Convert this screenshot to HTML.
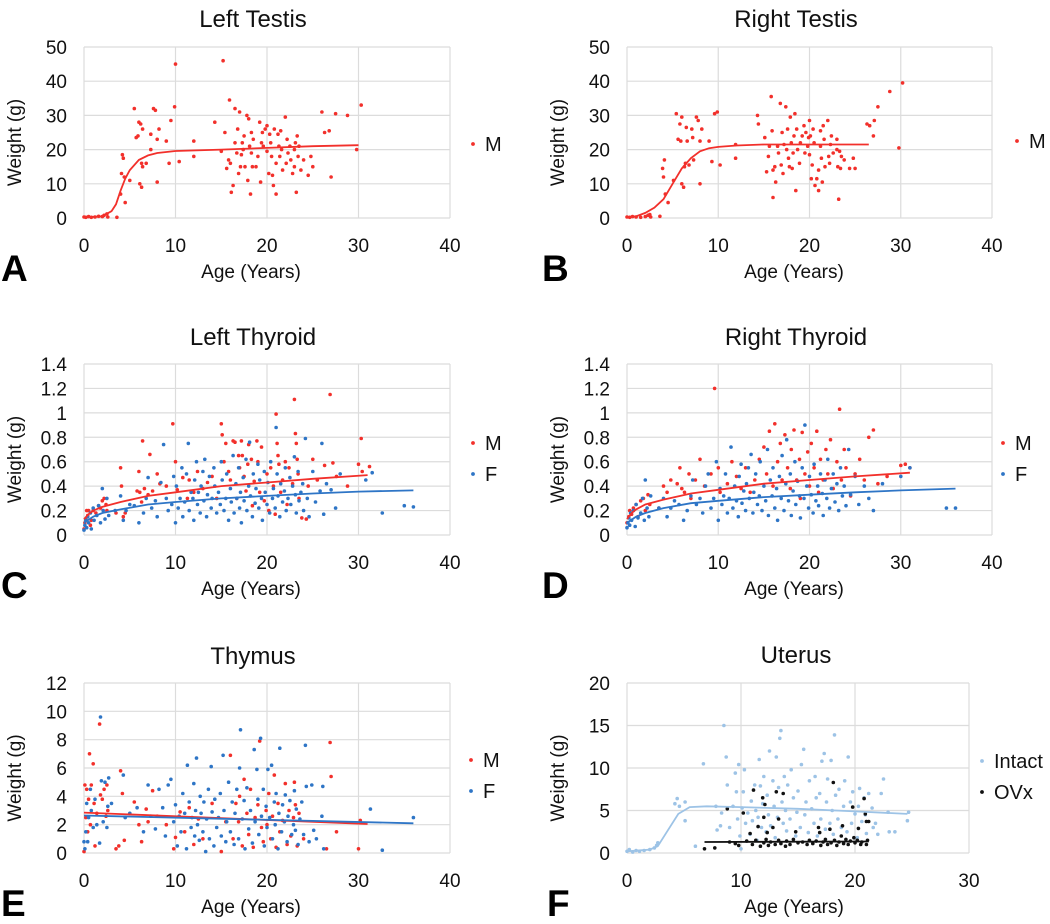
<!DOCTYPE html>
<html><head><meta charset="utf-8">
<style>
html,body{margin:0;padding:0;background:#fff;}
svg{display:block;font-family:"Liberation Sans",sans-serif;}
</style></head>
<body>
<svg id="fig" width="1050" height="924" viewBox="0 0 1050 924"></svg>
<script>
// ---- data (age, weight) ----
const aM = "0,.3 .2,.2 .5,.4 .8,.2 1.2,.3 1.6,.5 2,.4 2.2,.8 2.5,1.2 2.6,.3 3.6,.2 4,7 4.1,13 4.2,18.5 4.3,17.5 4.4,12 4.5,4.5 5,11 5.5,32 5.7,23.5 5.9,24 6,28 6.1,10 6.3,9 6.2,27.5 6.4,26 6.3,16 6.4,15 6.8,16 7.3,20 7.3,24.5 7.6,32 7.8,31.5 8,23 8.2,26 8,10.5 9,22.5 9.3,16 9.5,28.5 9.9,32.5 10,45 10.4,16.5 12,22.5 12,18 14.3,28 15,19.5 15.2,46 15.4,25 15.6,14.5 15.8,17 15.9,34.5 16,16 16.1,7.5 16.3,9.5 16.5,32 16.5,22 16.7,19 16.8,26 16.9,13 17,31 17.1,15 17.2,18.5 17.3,22 17.4,20 17.5,24 17.6,15 17.8,30 17.9,11 18,29 18.1,21 18.2,7 18.3,25 18.3,19 18.4,15 18.5,23 18.8,15 19,18 19.2,28 19.3,10.5 19.4,22 19.5,25 19.6,21 19.8,26 20,27 20,19.5 20.2,13 20.3,24.5 20.4,22 20.5,18 20.6,12.5 20.7,9.5 20.8,26 21,7 21,16 21.2,24.5 21.3,21 21.4,18 21.5,25.5 21.6,20 21.7,14 22,29.5 22.1,16 22.2,23 22.3,19 22.5,21 22.6,17 22.8,13 23,20 23,15 23.1,22 23.2,7.5 23.3,24 23.4,18 23.5,21 23.7,14 24,17 24.5,12.5 24.8,18 25,15 26,31 26.3,25 26.8,25.5 27,12 27.5,30.5 28.8,30 29.8,20 30.3,33";
const aFit = "0,.2 2,.5 3,2 3.5,4 4,8 4.5,11.5 5,14 6,17 7,18.3 8,19 10,19.6 15,20 20,20.5 25,21 30,21.3";
const bM = "0,.3 .3,.2 .6,.4 1,.3 1.5,.2 2,.4 2.3,.8 2.5,1 2.6,.3 3.6,.5 3.9,14.5 4,12 4.1,17 4.2,7 4.5,4.5 5.1,11 5.4,30.5 5.6,23 5.8,27.5 5.9,22.5 6,29.5 6,10 6.2,9 6.3,15 6.4,16 6.5,26.5 6.6,22.5 6.8,15.5 7.1,26 7.2,23.5 7.3,17 7.6,29.5 7.8,28.5 8,22.5 8,10 8.2,26 9,22.5 9.3,16.5 9.6,30.5 9.9,31 10.2,15.5 11.9,21.5 11.9,17.5 14.3,30 14.4,27.5 15.1,23.5 15.3,13.5 15.5,18 15.6,21 15.8,35.5 15.9,25.5 16,14 16,6 16.2,15 16.3,10.5 16.5,21 16.6,19 16.8,33.5 16.9,15.5 17,25 17.1,13 17.2,21.5 17.4,32.5 17.5,20 17.6,26 17.7,17.5 17.8,15 17.9,29.5 18,22 18.1,14.5 18.2,19 18.3,24 18.4,30.5 18.5,8 18.6,26 18.7,20 18.9,16 19,22 19.2,24 19.4,27 19.5,19 19.6,25 19.8,21 19.9,23.5 20,28.5 20,18.5 20.1,24 20.2,11.5 20.3,15.5 20.4,26 20.5,22 20.6,9.5 20.8,11.5 21,14 21,8 21.2,25.5 21.2,21 21.3,17.5 21.4,10.5 21.5,27 21.6,23 21.7,15 22,28.5 22.1,18 22.2,16 22.3,21.5 22.4,24 22.6,19 23,20 23,23 23.1,15 23.2,5.5 23.3,19.5 23.4,14.5 23.5,18 23.8,17 24.4,14.5 24.8,17.5 25,14.5 26.3,27.5 26.6,27 27,24 27.1,28.5 27.5,32.5 28.8,37 29.8,20.5 30.2,39.5";
const bFit = "0,.3 1,.5 2,1.5 3,3 4,5.5 5,10 6,14.5 7,17.5 8,19.5 9,20.4 10,20.8 12,21.2 15,21.5 20,21.5 26.5,21.5";
const cM = "0,.05 .1,.1 .2,.13 .3,.2 .4,.16 .5,.2 .7,.08 .8,.12 1,.2 1.3,.18 1.6,.24 1.8,.22 2,.28 2.2,.3 2.4,.25 2.5,.2 3.5,.18 4,.55 4.1,.4 4.3,.15 4.5,.18 5.8,.36 6,.52 6.1,.35 6.3,.27 6.4,.77 6.6,.38 7,.33 7.2,.66 7.5,.36 8,.5 8.3,.42 9,.4 9.7,.91 10,.6 10.2,.37 10.8,.47 11.3,.3 11.5,.45 12,.35 12.4,.52 13,.38 13.5,.43 14,.48 14.5,.3 15,.91 15.1,.82 15.3,.6 15.5,.75 15.8,.52 16,.45 16.3,.77 16.5,.76 16.7,.3 16.9,.65 17,.55 17.2,.77 17.3,.65 17.5,.48 17.7,.36 17.9,.58 18,.74 18.3,.62 18.4,.24 18.6,.44 18.9,.77 19,.6 19.2,.35 19.4,.72 19.7,.28 20,.5 20.2,.2 20.4,.55 20.7,.4 20.9,.17 21,.99 21.1,.75 21.2,.65 21.3,.58 21.5,.35 21.7,.45 22,.6 22.2,.25 22.4,.55 22.8,.42 23,1.11 23.1,.83 23.2,.75 23.3,.62 23.4,.5 23.5,.3 23.8,.14 24.3,.13 24.5,.4 25,.62 25.5,.45 26.3,.57 26.9,1.15 27.2,.59 27.6,.48 28.8,.4 30,.58 30.3,.79 30.4,.52 31.2,.56";
const cF = "0,.04 .1,.08 .2,.12 .3,.06 .4,.15 .5,.1 .7,.18 .8,.05 1,.22 1.1,.12 1.4,.16 1.6,.24 1.8,.1 2,.38 2.1,.2 2.3,.13 2.5,.3 2.7,.16 3.4,.2 4,.32 4.3,.12 4.6,.2 5,.25 5.5,.24 6,.1 6.5,.18 6.8,.3 7,.47 7.4,.22 7.8,.28 8,.15 8.4,.43 8.7,.74 9,.3 9.2,.2 9.6,.25 9.8,.48 10,.1 10.1,.4 10.3,.22 10.5,.3 10.7,.55 10.8,.15 11,.27 11.2,.5 11.4,.75 11.5,.2 11.7,.35 11.9,.3 12,.12 12.1,.45 12.3,.6 12.4,.25 12.5,.35 12.7,.18 12.8,.4 13,.52 13.1,.28 13.2,.62 13.4,.15 13.5,.33 13.7,.48 13.9,.22 14,.3 14.2,.55 14.3,.4 14.5,.18 14.7,.35 14.9,.25 15,.6 15.1,.45 15.3,.2 15.5,.3 15.6,.5 15.8,.12 16,.38 16.1,.27 16.3,.65 16.4,.18 16.6,.42 16.7,.3 16.9,.55 17,.22 17.1,.35 17.2,.1 17.4,.47 17.5,.28 17.7,.62 17.8,.2 18,.4 18.1,.76 18.2,.32 18.4,.15 18.5,.5 18.7,.26 18.8,.38 19,.58 19.1,.22 19.2,.45 19.4,.3 19.5,.12 19.7,.52 19.8,.35 20,.25 20.1,.43 20.3,.18 20.4,.6 20.6,.3 20.7,.38 20.9,.22 21,.88 21.1,.5 21.2,.32 21.4,.15 21.5,.42 21.7,.27 21.9,.36 22,.55 22.1,.2 22.3,.3 22.5,.47 22.6,.25 22.8,.4 23,.64 23.1,.33 23.2,.18 23.4,.52 23.5,.28 23.7,.35 23.9,.42 24,.2 24.2,.79 24.4,.3 24.6,.15 25,.52 25.3,.27 25.8,.36 26,.75 26.2,.17 26.5,.42 27,.37 27.5,.22 28,.5 30.8,.45 31.5,.51 32.6,.18 35,.24 36,.23";
const cMFit = "0,.13 .5,.17 1,.2 2,.23 4,.27 7,.32 10,.35 15,.4 20,.43 25,.46 31,.49";
const cFFit = "0,.1 1,.15 2,.18 4,.21 7,.25 10,.27 15,.3 20,.32 25,.34 30,.355 36,.365";
const dM = "0,.1 .2,.15 .3,.2 .5,.17 .7,.22 1,.25 1.2,.15 1.5,.28 1.8,.3 2,.2 2.3,.33 2.5,.25 3.5,.22 4,.4 4.4,.35 4.8,.45 5.5,.42 5.8,.55 6,.38 6.3,.35 6.8,.5 7,.3 7.5,.45 8,.62 8.5,.4 9.2,.5 9.6,1.2 10,.55 10.2,.35 11,.42 11.5,.6 12,.48 12.5,.38 13,.55 13.5,.35 14,.45 14.5,.62 15,.72 15.3,.5 15.6,.85 16,.4 16.2,.91 16.5,.6 16.8,.75 17,.45 17.3,.82 17.6,.55 17.9,.38 18,.7 18.3,.86 18.6,.45 18.9,.62 19,.3 19.2,.84 19.5,.5 19.8,.68 20,.4 20.2,.75 20.5,.55 20.8,.85 21,.35 21.2,.62 21.5,.45 21.8,.7 22,.5 22.3,.78 22.6,.38 23,.6 23.3,1.03 23.5,.45 23.8,.7 24,.55 24.5,.32 25,.5 25.5,.62 26,.45 26.5,.8 27,.86 27.5,.42 28.5,.48 30,.57 30.5,.58 31,.55";
const dF = "0,.06 .1,.1 .2,.14 .3,.08 .4,.18 .5,.12 .7,.2 .9,.07 1,.25 1.2,.14 1.5,.18 1.7,.3 1.9,.12 2,.45 2.2,.22 2.4,.15 2.6,.32 3.5,.22 4,.3 4.4,.15 4.8,.22 5.2,.28 5.7,.25 6.2,.12 6.6,.2 7,.32 7.2,.45 7.6,.25 8,.3 8.3,.18 8.6,.4 8.9,.5 9.2,.22 9.5,.3 9.8,.6 10,.12 10.2,.38 10.4,.25 10.6,.32 10.8,.5 11,.18 11.2,.3 11.4,.72 11.6,.22 11.8,.4 12,.28 12.2,.15 12.3,.48 12.5,.58 12.6,.26 12.8,.36 13,.2 13.1,.42 13.3,.55 13.4,.3 13.6,.66 13.8,.18 13.9,.35 14.1,.5 14.3,.25 14.5,.32 14.6,.6 14.8,.2 15,.4 15.2,.28 15.4,.7 15.5,.16 15.7,.45 15.9,.32 16,.55 16.2,.22 16.4,.38 16.5,.12 16.7,.48 16.9,.3 17,.65 17.2,.2 17.4,.42 17.5,.78 17.7,.28 17.9,.5 18,.16 18.2,.36 18.4,.6 18.5,.25 18.7,.44 18.9,.32 19,.14 19.2,.55 19.4,.3 19.5,.9 19.7,.4 19.9,.22 20,.48 20.2,.33 20.4,.18 20.5,.58 20.7,.28 20.9,.4 21,.24 21.2,.5 21.4,.34 21.5,.16 21.7,.45 21.9,.3 22,.62 22.2,.22 22.4,.38 22.6,.5 22.8,.27 23,.42 23.2,.2 23.4,.55 23.6,.32 23.8,.4 24,.24 24.3,.7 24.5,.33 25,.48 25.4,.25 26,.4 26.5,.3 27,.2 28,.42 30,.48 31,.55 35,.22 36,.22";
const dMFit = "0,.13 .5,.18 1,.21 2,.25 4,.29 7,.34 10,.37 15,.42 20,.45 25,.48 31,.51";
const dFFit = "0,.1 1,.15 2,.18 4,.22 7,.26 10,.28 15,.31 20,.33 25,.35 30,.365 36,.38";
const eM = "0,.1 .1,4.8 .2,2.5 .3,4.5 .4,1.5 .5,3.8 .6,7 .7,2 .8,4.8 1,6.3 1.1,3.5 1.2,.5 1.4,2.8 1.7,9.1 1.8,4.1 2,3.8 2.2,4.5 2.4,2.6 2.5,4.8 2.6,3 3.5,.3 3.8,.5 4,5.8 4.2,4.2 4.4,.9 5.5,3.6 6,2 6.3,.8 6.8,3.1 7,2.2 7.5,4.4 8,2.6 9,2 9.8,.3 10,1.1 10.5,2.9 11,1.5 11.5,3.2 12,.6 12.5,2.4 13,1 14,3.5 15,.1 15.5,2.2 16,6.9 16.3,1 16.6,3.5 16.9,2.2 17,4 17.3,.5 17.5,5.2 17.8,2.8 18,1.3 18.2,4.5 18.5,.4 18.7,2.5 19,3.4 19.2,7.9 19.4,1.8 19.6,.8 19.9,3 20,2 20.2,4.2 20.4,1 20.6,2.6 20.8,5.5 21,.4 21.2,3.5 21.4,1.5 21.7,2.3 22,4.9 22.2,.6 22.4,3 22.6,1.2 22.9,2.5 23,5 23.1,3.4 23.3,.5 23.5,2.8 24,1 26.5,.3 26.9,7.8 27,5.4 27.6,1.5 30,.3 30.2,2.3";
const eF = "0,.8 .1,.3 .2,1.5 .3,3.5 .4,.8 .5,2.5 .7,4.5 .8,3 1,1.8 1.2,3.8 1.4,2 1.7,.7 1.8,9.6 1.9,5.1 2.1,2.2 2.3,5 2.5,1.8 2.6,3.3 2.7,5.3 3,3.5 4.3,5.5 4.5,2.5 5,2.8 5.8,3.2 6.5,1.5 7,4.8 7.3,2.6 7.8,1.7 8.2,4.5 8.6,3.2 8.9,1.2 9.2,4.8 9.5,5.2 9.8,2.2 10,3.4 10.2,.5 10.4,2.6 10.6,1.5 10.8,4.2 11,2.8 11.2,.3 11.3,6.2 11.5,3.6 11.7,1.8 11.8,2.5 12,4.9 12.1,1.2 12.2,3 12.3,6.7 12.4,2 12.6,.9 12.7,4 12.8,2.8 13,1.5 13.1,3.6 13.3,.1 13.4,2.4 13.6,4.5 13.7,1 13.9,6.1 14,2.9 14.2,.5 14.3,3.8 14.5,1.8 14.7,2.5 14.9,4.2 15,1.2 15.2,6.9 15.3,3 15.5,.8 15.6,2.2 15.8,5 16,1.5 16.2,3.6 16.4,.6 16.5,2.8 16.7,4.5 16.9,1 17,6 17.1,8.7 17.3,2.4 17.5,3.7 17.6,.3 17.8,4.6 18,1.7 18.2,3 18.4,.7 18.6,7.3 18.7,2.2 18.9,5.9 19,3.8 19.1,1.3 19.3,8.1 19.4,2.6 19.6,4.5 19.7,.5 19.9,3.3 20,1.8 20.1,5.9 20.3,2.5 20.5,6.2 20.6,1 20.8,3.6 20.9,2 21,4.2 21.2,.3 21.3,2.8 21.4,7.4 21.6,1.5 21.7,3.4 21.9,2.2 22,4.1 22.2,.8 22.3,2.6 22.5,3.7 22.7,1.3 22.9,2 23,4.4 23.1,1.6 23.2,3.1 23.4,.6 23.6,2.4 23.8,3.6 24,1.3 24.2,7.6 24.3,4.7 24.6,.8 24.9,4.8 25.1,1.6 25.4,1 26,2.6 26.1,4.7 26.2,.3 31.3,3.1 32.6,.2 36,2.5";
const eMFit = "0,2.85 31,2.05";
const eFFit = "0,2.65 36,2.1";
const fIntact = "0,.2 .2,.4 .5,.1 .8,.3 1.1,.2 1.5,.3 2,.4 2.4,.6 2.6,.9 2.7,1.2 4.2,5.8 4.4,6.4 4.6,5.5 5.1,6 5.1,3.8 6,.8 6.7,10.5 7.8,5.5 7.9,2.7 8.2,3.2 8.3,4.7 8.5,15 8.7,11.3 8.8,8 9,3 9.3,5.5 9.5,9.4 9.6,7.2 9.7,4 9.8,10.4 9.9,2 10,.5 10.1,5.3 10.2,7.2 10.3,9.8 10.4,3.5 10.6,4.7 10.8,2.2 10.9,6.1 11,3.8 11.2,8 11.3,5 11.4,1.5 11.5,4.2 11.6,11 11.7,7.9 11.8,3 11.9,5.8 12,9 12.2,2.5 12.3,6.8 12.4,4.5 12.5,12 12.6,3.2 12.8,8.5 12.9,5.5 13,1.8 13.1,11.3 13.2,4.2 13.3,7.7 13.4,13.5 13.5,14.4 13.6,6 13.7,3.5 13.8,9 13.9,5 14,2.6 14.1,8 14.3,4 14.4,9.8 14.6,6.5 14.8,2 14.9,4.8 15,7.3 15.2,3 15.3,10.4 15.5,12.2 15.6,4.5 15.7,6 15.9,2.4 16,8.5 16.2,5.2 16.4,3.5 16.5,9 16.6,6.5 16.7,2 16.9,7 17,4 17.1,10.8 17.3,11.7 17.4,2.8 17.5,6 17.6,8.7 17.8,3.5 17.9,10.9 18,5 18.1,2.2 18.2,13.9 18.3,6.8 18.5,4 18.6,7.5 18.8,3 19,5.5 19.1,8.5 19.3,2.5 19.4,11.3 19.6,6 19.7,3.5 19.8,7.2 20,4.6 20.2,1.8 20.3,5.5 20.4,7.6 20.6,3.7 20.8,6.5 20.9,4.5 21,2.3 21.2,7 21.5,5.3 21.6,3 21.8,3.5 22,2.2 22.3,7 22.5,8.7 22.9,4.8 23,2.5 23.5,2.5 24.6,3.8 24.7,4.8";
const fOVx = "6.8,.5 7.7,.6 8.8,5.2 9,1.3 9.5,1.1 9.8,.9 10.2,4.7 10.5,1.4 10.8,2.3 11,1 11.1,7.4 11.3,1.5 11.5,3.1 11.7,.8 11.9,6.5 12,1.2 12,4.2 12.1,5.7 12.2,1.6 12.3,2.4 12.4,.9 12.6,1.3 12.8,3 13,1 13.1,7.2 13.3,1.5 13.3,4 13.5,1.1 13.7,7 13.9,.8 14,1.4 14.3,1 14.6,1.6 14.8,2.5 15,1.2 15.4,1.3 15.8,1 16,1.5 16.3,1.1 16.6,1.4 16.8,3 16.9,2.4 17,.9 17.2,1.3 17.4,1.6 17.6,1 17.8,2.8 17.9,1.2 18.1,8.3 18.2,1.5 18.4,.9 18.6,1.3 18.8,2 18.9,3.2 19,1.1 19.2,1.6 19.4,1 19.6,1.4 19.8,5.4 19.9,1.8 20,1.2 20.2,1.5 20.3,2.9 20.5,1 20.6,1.3 20.8,6.4 20.9,4.6 21,3.7 21,1 21.1,1.5 21.2,3.7";
const fIntactFit = "0,.2 2,.4 2.7,.8 3.5,2.5 4.5,4.6 5.5,5.4 7,5.5 10,5.4 15,5.2 20,4.9 24.6,4.6";
const fOVxFit = "6.8,1.3 21.2,1.35";

const RED="#f2302b", BLUE="#2e75c6", LBLUE="#9dc3e6", BLACK="#111";
const NS="http://www.w3.org/2000/svg";
const svg=document.getElementById('fig');
function parse(s){return s.trim().split(/\s+/).map(p=>p.split(',').map(Number));}
function mk(tag,attrs,parent){const e=document.createElementNS(NS,tag);for(const k in attrs)e.setAttribute(k,attrs[k]);(parent||svg).appendChild(e);return e;}
function txt(t,x,y,size,attrs,parent){const e=mk('text',Object.assign({x:x,y:y,'font-size':size,fill:'#111'},attrs||{}),parent);e.textContent=t;return e;}

function panel(cfg){
  const g=mk('g',{});
  
  
  const sx=v=>cfg.x0+(cfg.x1-cfg.x0)*v/cfg.xmax;
  const sy=v=>cfg.y0-(cfg.y0-cfg.yt)*v/cfg.ymax;
  for(let i=0;i<=cfg.ymax/cfg.ystep+1e-9;i++){
    const v=i*cfg.ystep;
    const l=mk('line',{x1:cfg.x0,x2:cfg.x1,y1:sy(v),y2:sy(v),stroke:'#dcdcdc','stroke-width':1.2},g);
    
    
    const lbl=+v.toFixed(1);
    const t=txt(String(lbl),cfg.x0-17,sy(v)+7,19,{'text-anchor':'end'},g);
    
    
  }
  for(let v=0;v<=cfg.xmax;v+=10){
    const l=mk('line',{x1:sx(v),x2:sx(v),y1:cfg.yt,y2:cfg.y0,stroke:'#dcdcdc','stroke-width':1.2},g);
    
    
    const t=txt(String(v),sx(v),cfg.y0+34,19,{'text-anchor':'middle'},g);
    
    
  }
  const ti=txt(cfg.title,cfg.tx,cfg.ty+9,24,{'text-anchor':'middle'},g);
  
  
  const xt=txt('Age (Years)',cfg.tx-2,cfg.y0+60,19,{'text-anchor':'middle'},g);
  
  
  const yc=(cfg.y0+cfg.yt)/2+10;
  const yt=txt('Weight (g)',cfg.ylx,yc,19,{'text-anchor':'middle',transform:`rotate(-90 ${cfg.ylx} ${yc})`},g);
  
  
  const pl=txt(cfg.letter,cfg.lx,cfg.y0+63,37,{'font-weight':'bold','fill':'#000'},g);
  
  
  cfg.series.forEach((s,si)=>{
    const sg=mk('g',{},g);
    
    
    parse(s.pts).forEach(([x,y])=>{
      const c=mk('circle',{cx:sx(x).toFixed(1),cy:sy(y).toFixed(1),r:s.r||1.8,fill:s.color},sg);
      
      
    });
  });
  cfg.series.forEach(s=>{
    if(!s.fit)return;
    const d=parse(s.fit).map(([x,y],i)=>(i?'L':'M')+sx(x).toFixed(1)+' '+sy(y).toFixed(1)).join(' ');
    const p=mk('path',{d:d,fill:'none',stroke:s.lineColor||s.color,'stroke-width':1.8},g);
    
    
  });
  cfg.series.forEach((s,i)=>{
    const ly=cfg.legY+i*31;
    const lg=mk('g',{},g);
    
    
    mk('circle',{cx:cfg.legX,cy:ly,r:1.9,fill:s.color},lg);
    txt(s.label,cfg.legX+12,ly+7,20,{},lg);
  });
}

const L={x0:84,x1:450,lx:1,ylx:21}, R={x0:627,x1:992,lx:542,ylx:564};
panel(Object.assign({},L,{name:'panel-a-left-testis',title:'Left Testis',tx:253,ty:18,y0:218,yt:47,ymax:50,ystep:10,xmax:40,letter:'A',legX:473,legY:144,
  series:[{label:'M',color:RED,pts:aM,fit:aFit}]}));
panel(Object.assign({},R,{name:'panel-b-right-testis',title:'Right Testis',tx:796,ty:18,y0:218,yt:47,ymax:50,ystep:10,xmax:40,letter:'B',legX:1017,legY:141,
  series:[{label:'M',color:RED,pts:bM,fit:bFit}]}));
panel(Object.assign({},L,{name:'panel-c-left-thyroid',title:'Left Thyroid',tx:253,ty:336,y0:535,yt:364,ymax:1.4,ystep:0.2,xmax:40,letter:'C',legX:473,legY:443,
  series:[{label:'M',color:RED,pts:cM,fit:cMFit},{label:'F',color:BLUE,pts:cF,fit:cFFit}]}));
panel(Object.assign({},R,{name:'panel-d-right-thyroid',title:'Right Thyroid',tx:796,ty:336,y0:535,yt:364,ymax:1.4,ystep:0.2,xmax:40,letter:'D',legX:1003,legY:443,
  series:[{label:'M',color:RED,pts:dM,fit:dMFit},{label:'F',color:BLUE,pts:dF,fit:dFFit}]}));
panel(Object.assign({},L,{name:'panel-e-thymus',title:'Thymus',tx:253,ty:655,y0:853,yt:683,ymax:12,ystep:2,xmax:40,letter:'E',legX:471,legY:760,
  series:[{label:'M',color:RED,pts:eM,fit:eMFit},{label:'F',color:BLUE,pts:eF,fit:eFFit}]}));
panel({name:'panel-f-uterus',title:'Uterus',tx:796,ty:654,x0:627,x1:969,y0:853,yt:683,ymax:20,ystep:5,xmax:30,letter:'F',lx:547,ylx:564,legX:982,legY:761,
  series:[{label:'Intact',color:LBLUE,pts:fIntact,fit:fIntactFit},{label:'OVx',color:BLACK,pts:fOVx,fit:fOVxFit}]});
</script>
</body></html>
